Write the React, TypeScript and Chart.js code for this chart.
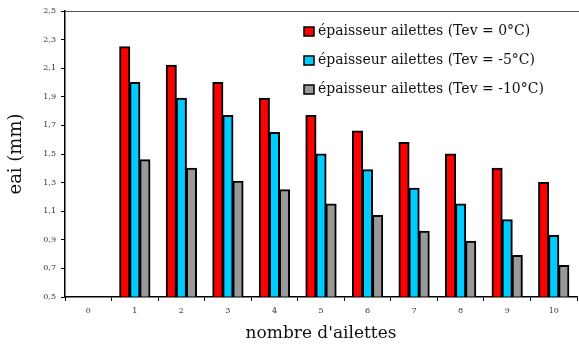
import React, { useEffect, useRef } from "react";
import { Chart, registerables } from "chart.js";

Chart.register(...registerables);

const categories = ["0", "1", "2", "3", "4", "5", "6", "7", "8", "9", "10"];
const seriesLabels = [
  "épaisseur ailettes (Tev = 0°C)",
  "épaisseur ailettes (Tev = -5°C)",
  "épaisseur ailettes (Tev = -10°C)",
];
const tev0 = [null, 2.25, 2.12, 2.0, 1.89, 1.77, 1.66, 1.58, 1.5, 1.4, 1.3];
const tev5 = [null, 2.0, 1.89, 1.77, 1.65, 1.5, 1.39, 1.26, 1.15, 1.04, 0.93];
const tev10 = [null, 1.46, 1.4, 1.31, 1.25, 1.15, 1.07, 0.96, 0.89, 0.79, 0.72];
const colors = ["#ff0000", "#00ccff", "#999999"];
const yMin = 0.5;
const yMax = 2.5;
const yStep = 0.2;
const xTitle = "nombre d'ailettes";
const yTitle = "eai (mm)";

const SERIF = "'DejaVu Serif', serif";

const legendPlugin = {
  id: "insideLegend",
  afterDraw(chart: any) {
    const ctx = chart.ctx;
    const area = chart.chartArea;
    ctx.save();
    // top frame line
    ctx.strokeStyle = "#555";
    ctx.lineWidth = 1;
    ctx.beginPath();
    ctx.moveTo(area.left, area.top + 0.5);
    ctx.lineTo(chart.width, area.top + 0.5);
    ctx.stroke();
    // legend
    const x0 = 304;
    const y0 = 31.5;
    const gap = 29;
    ctx.font = `14px ${SERIF}`;
    ctx.textBaseline = "middle";
    ctx.textAlign = "left";
    chart.data.datasets.forEach((ds: any, i: number) => {
      const y = y0 + i * gap;
      ctx.fillStyle = ds.backgroundColor;
      ctx.fillRect(x0, y - 4.5, 10, 9);
      ctx.strokeStyle = "#000";
      ctx.lineWidth = 1.5;
      ctx.strokeRect(x0, y - 4.5, 10, 9);
      ctx.fillStyle = "#111";
      ctx.fillText(ds.label, x0 + 14, y);
    });
    ctx.restore();
  },
};

export default function App() {
  const ref = useRef<HTMLCanvasElement | null>(null);
  useEffect(() => {
    if (!ref.current) return;
    const series = [tev0, tev5, tev10];
    const chart = new Chart(ref.current, {
      type: "bar",
      data: {
        labels: categories,
        datasets: series.map((d, i) => ({
          label: seriesLabels[i],
          data: d as any,
          backgroundColor: colors[i],
          borderColor: "#000",
          borderWidth: 2,
          base: yMin,
          categoryPercentage: 0.65,
          barPercentage: 1,
          inflateAmount: 0.5,
        })),
      },
      options: {
        animation: false,
        responsive: true,
        maintainAspectRatio: false,
        layout: { padding: { top: 11, right: 2, left: 0, bottom: 0 } },
        plugins: {
          legend: { display: false },
          tooltip: { enabled: false },
        },
        scales: {
          x: {
            afterFit: (s: any) => {
              s.height = 47;
            },
            grid: {
              drawOnChartArea: false,
              drawTicks: true,
              tickLength: 4,
              color: "#000",
              lineWidth: 1,
            },
            border: { display: true, color: "#000", width: 1.5 },
            ticks: {
              font: { family: SERIF, size: 8 },
              color: "#333",
              padding: 5,
              maxRotation: 0,
            },
            title: {
              display: true,
              text: xTitle,
              font: { family: SERIF, size: 17 },
              color: "#111",
              padding: { top: 0, bottom: 0 },
            },
          },
          y: {
            min: yMin,
            max: yMax,
            afterFit: (s: any) => {
              s.width = 65;
            },
            grid: {
              drawOnChartArea: false,
              drawTicks: true,
              tickLength: 4,
              color: "#000",
              lineWidth: 1,
            },
            border: { display: true, color: "#000", width: 1.5 },
            ticks: {
              stepSize: yStep,
              font: { family: SERIF, size: 8 },
              color: "#333",
              padding: 5,
              callback: (v: any) => Number(v).toFixed(1).replace(".", ","),
            },
            title: {
              display: true,
              text: yTitle,
              font: { family: SERIF, size: 18 },
              color: "#111",
              padding: { top: 6, bottom: 0 },
            },
          },
        },
      },
      plugins: [legendPlugin],
    });
    return () => chart.destroy();
  }, []);
  return (
    <div style={{ position: "absolute", left: 0, top: 0, width: 579, height: 344, background: "#fff" }}>
      <canvas ref={ref} />
    </div>
  );
}
